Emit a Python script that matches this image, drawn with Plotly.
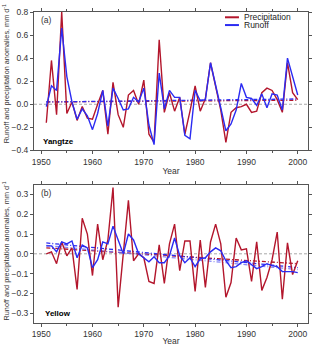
import plotly.graph_objects as go
from plotly.subplots import make_subplots

years = list(range(1951, 2001))

# Yangtze anomalies (mm/d)
yz_prec = [-0.16, 0.38, -0.09, 0.80, -0.08, 0.02, -0.14, -0.02, -0.12, -0.13,
           0.00, 0.12, -0.26, 0.19, -0.09, -0.20, 0.08, 0.12, 0.00, 0.21,
           -0.26, -0.33, 0.56, -0.07, 0.10, -0.06, 0.06, -0.26, -0.06, 0.16,
           -0.06, 0.05, 0.36, 0.15, -0.05, -0.33, -0.07, -0.03, -0.02, 0.00,
           -0.07, -0.06, 0.10, 0.14, 0.12, 0.04, -0.07, 0.36, 0.10, 0.04]
yz_runoff = [-0.02, 0.16, 0.12, 0.66, 0.24, 0.02, -0.13, -0.04, -0.10, -0.22,
             -0.08, 0.12, -0.19, 0.14, 0.05, -0.05, -0.04, 0.06, 0.02, 0.14,
             -0.18, -0.35, 0.27, -0.04, 0.12, 0.06, 0.06, -0.27, -0.30, 0.12,
             0.03, 0.04, 0.36, 0.15, -0.03, -0.23, -0.17, -0.05, 0.18, 0.06,
             0.05, -0.01, 0.09, -0.03, 0.09, 0.08, -0.05, 0.40, 0.25, 0.08]

# Yellow anomalies (mm/d)
yl_prec = [0.00, 0.01, -0.05, 0.06, -0.01, 0.03, -0.18, 0.18, 0.10, -0.11,
           0.15, -0.03, 0.07, 0.335, -0.27, 0.00, 0.27, -0.035, 0.00, -0.02,
           -0.14, -0.15, 0.045, -0.15, 0.05, 0.15, -0.085, 0.065, 0.065, -0.19,
           0.07, -0.17, 0.06, 0.15, 0.05, -0.22, -0.145, 0.08, 0.02, 0.025,
           -0.14, 0.06, -0.185, -0.12, -0.03, 0.11, -0.23, 0.055, -0.105, -0.035]
yl_runoff = [0.04, 0.04, 0.01, 0.06, 0.05, 0.065, -0.02, 0.045, 0.03, -0.07,
             -0.03, 0.06, 0.05, 0.14, 0.07, 0.00, 0.10, 0.07, 0.00, -0.02,
             -0.04, -0.015, -0.045, -0.045, -0.01, 0.08, -0.01, -0.045, -0.02, -0.065,
             -0.025, -0.02, 0.01, 0.03, 0.015, -0.035, -0.07, -0.065, -0.045, -0.035,
             -0.055, -0.075, -0.065, -0.05, -0.06, -0.065, -0.09, -0.09, -0.09, -0.095]

# linear trend endpoints (1951, 2000)
trend_years = [1951, 2000]
yz_prec_trend = [0.02, 0.035]
yz_runoff_trend = [0.02, 0.046]
yl_prec_trend = [0.03, -0.05]
yl_runoff_trend = [0.055, -0.07]
yl_runoff_trend2 = [0.042, -0.08]

RED = '#B3162C'
BLUE = '#2B2BF2'
GREY = '#555555'
FONT = 'Liberation Sans, Arial, sans-serif'
DASHDOT = '4px,2px,1px,2px'

fig = make_subplots(rows=2, cols=1, vertical_spacing=0.11)

panels = [
    (1, yz_prec, yz_runoff, [(yz_prec_trend, RED, 1), (yz_runoff_trend, BLUE, 1)]),
    (2, yl_prec, yl_runoff, [(yl_prec_trend, RED, 1), (yl_runoff_trend, BLUE, 1),
                             (yl_runoff_trend2, '#6B6BF5', 0.8)]),
]

for row, prec, runoff, trends in panels:
    fig.add_trace(go.Scatter(x=[1948.6, 2002], y=[0, 0], mode='lines', showlegend=False,
                             line=dict(color='#A8A8A8', width=1, dash='3px,2px')), row=row, col=1)
    for vals, col, op in trends:
        fig.add_trace(go.Scatter(x=trend_years, y=vals, mode='lines', showlegend=False, opacity=op,
                                 line=dict(color=col, width=1.3, dash=DASHDOT)), row=row, col=1)
    fig.add_trace(go.Scatter(x=years, y=prec, mode='lines', name='Precipitation', showlegend=False,
                             line=dict(color=RED, width=1.4)), row=row, col=1)
    fig.add_trace(go.Scatter(x=years, y=runoff, mode='lines', name='Runoff', showlegend=False,
                             line=dict(color=BLUE, width=1.4)), row=row, col=1)

axis_style = dict(showline=True, linecolor=GREY, linewidth=1, mirror='ticks', ticks='outside',
                  ticklen=3, tickcolor=GREY, showgrid=False, zeroline=False, automargin=False,
                  tickfont=dict(size=8.5, color='#333333', family=FONT))

for row in (1, 2):
    fig.update_xaxes(range=[1948.6, 2002], tick0=1950, dtick=10,
                     minor=dict(dtick=5, ticks='outside', ticklen=2, tickcolor=GREY),
                     title=dict(text='Year', font=dict(size=8.5, color='#333333'), standoff=2),
                     row=row, col=1, **axis_style)

fig.update_yaxes(range=[-0.4, 0.8], dtick=0.2, tickformat='.1f', row=1, col=1, **axis_style)
fig.update_yaxes(range=[-0.35, 0.35], dtick=0.1, tickformat='.1f', row=2, col=1, **axis_style)

ytitle = 'Runoff and precipitation anomalies, mm d<sup>-1</sup>'
annotations = [
    dict(text='(a)', x=0.017, y=0.974, xref='paper', yref='paper', showarrow=False,
         xanchor='left', yanchor='middle', font=dict(size=8.5)),
    dict(text='<b>Yangtze</b>', x=0.025, y=0.582, xref='paper', yref='paper', showarrow=False,
         xanchor='left', yanchor='middle', font=dict(size=8, color='black')),
    dict(text='(b)', x=0.017, y=0.418, xref='paper', yref='paper', showarrow=False,
         xanchor='left', yanchor='middle', font=dict(size=8.5)),
    dict(text='<b>Yellow</b>', x=0.033, y=0.029, xref='paper', yref='paper', showarrow=False,
         xanchor='left', yanchor='middle', font=dict(size=8, color='black')),
    dict(text=ytitle, x=0, xshift=-28, y=0.80, xref='paper', yref='paper', showarrow=False,
         textangle=-90, xanchor='center', yanchor='middle', font=dict(size=7.3)),
    dict(text=ytitle, x=0, xshift=-28, y=0.23, xref='paper', yref='paper', showarrow=False,
         textangle=-90, xanchor='center', yanchor='middle', font=dict(size=7.3)),
]

# legend drawn by hand so the rows sit close together as in the original
legend_items = [('Precipitation', RED), ('Runoff', BLUE)]
shapes = []
for i, (label, col) in enumerate(legend_items):
    ly = 0.983 - i * 0.025
    shapes.append(dict(type='line', xref='paper', yref='paper', x0=0.697, x1=0.748, y0=ly, y1=ly,
                       line=dict(color=col, width=2)))
    annotations.append(dict(text=label, x=0.759, y=ly, xref='paper', yref='paper', showarrow=False,
                            xanchor='left', yanchor='middle', font=dict(size=8.5, color='#222222')))

fig.update_layout(
    width=320, height=346,
    margin=dict(l=34, r=12, t=12, b=23),
    paper_bgcolor='white', plot_bgcolor='white',
    font=dict(family=FONT, size=8.5, color='#333333'),
    showlegend=False,
    annotations=annotations,
    shapes=shapes,
)

fig.write_html('out.html', config={'displayModeBar': False},
               post_script="document.body.style.margin='0';")
